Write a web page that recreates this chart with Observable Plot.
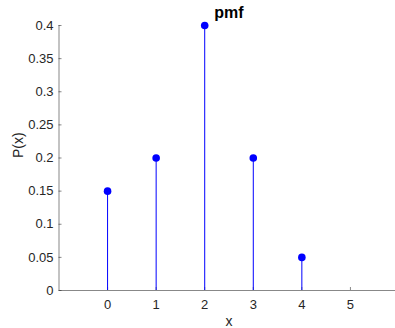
<!DOCTYPE html>
<html>
<head>
<meta charset="utf-8">
<script src="https://cdn.jsdelivr.net/npm/d3@7"></script>
<script src="https://cdn.jsdelivr.net/npm/@observablehq/plot@0.6"></script>
<style>
  html, body { margin: 0; padding: 0; background: #fff; }
  #chart svg { display: block; }
</style>
</head>
<body>
<div id="chart"></div>
<script>
const xs = [0, 1, 2, 3, 4];
const probs = [0.15, 0.2, 0.4, 0.2, 0.05];
const xTicks = [0, 1, 2, 3, 4, 5];
const yTicks = [0, 0.05, 0.1, 0.15, 0.2, 0.25, 0.3, 0.35, 0.4];
const yTickLabels = ["0", "0.05", "0.1", "0.15", "0.2", "0.25", "0.3", "0.35", "0.4"];
const titleText = "pmf";
const xLabel = "x";
const yLabel = "P(x)";

const data = xs.map((x, i) => ({x, p: probs[i]}));
const axisColor = "#262626";
const font = "'Liberation Sans', Arial, Helvetica, sans-serif";

const chart = Plot.plot({
  width: 395,
  height: 328,
  marginTop: 25,
  marginBottom: 38,
  marginLeft: 58.5,
  marginRight: -3.5,
  style: {fontFamily: font, background: "#fff", overflow: "visible"},
  x: {domain: [-1, 6], range: [58.5, 398.5]},
  y: {domain: [0, 0.4], range: [290, 25]},
  marks: [
    Plot.ruleX([-1], {stroke: axisColor, strokeOpacity: 0.55}),
    Plot.ruleY([0], {stroke: axisColor, strokeOpacity: 0.55}),
    Plot.axisY(yTicks, {tickSize: 3, dx: 3, text: null, stroke: axisColor, strokeOpacity: 0.55, label: null}),
    Plot.axisY(yTicks, {tickSize: 0, tickPadding: 5.5, tickFormat: (d, i) => yTickLabels[i], fontSize: 13, fill: axisColor, label: null}),
    Plot.axisX(xTicks, {tickSize: 3, dy: -3, text: null, stroke: axisColor, strokeOpacity: 0.55, label: null}),
    Plot.axisX(xTicks, {tickSize: 0, tickPadding: 9, fontSize: 13, fill: axisColor, label: null}),
    Plot.ruleX(data, {x: "x", y1: 0, y2: "p", stroke: "#0000ff", strokeWidth: 1}),
    Plot.dot(data, {x: "x", y: "p", r: 3.8, fill: "#0000ff", stroke: "none"}),
    Plot.text([titleText], {frameAnchor: "top", dy: -19, dx: 0, fontSize: 16, fontWeight: "bold", fill: "#000", textAnchor: "middle", lineAnchor: "top"}),
    Plot.text([xLabel], {frameAnchor: "bottom", dy: 26, fontSize: 14, fill: axisColor, lineAnchor: "top"}),
    Plot.text([yLabel], {frameAnchor: "left", dx: -40, rotate: -90, fontSize: 14, fill: axisColor})
  ]
});
document.getElementById("chart").appendChild(chart);
</script>
</body>
</html>
